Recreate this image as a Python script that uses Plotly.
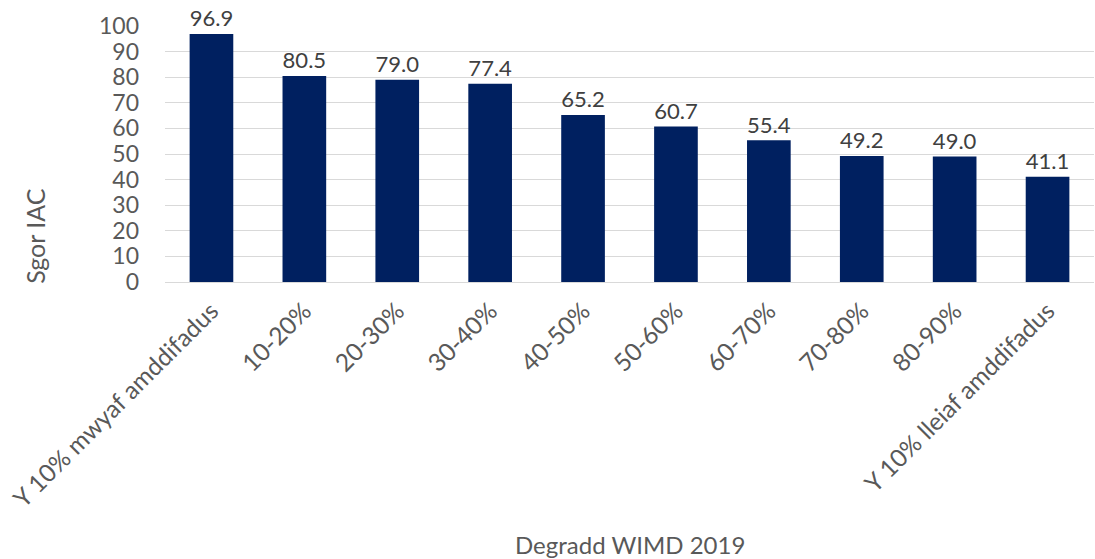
import plotly.graph_objects as go

categories = ["Y 10% mwyaf amddifadus", "10-20%", "20-30%", "30-40%", "40-50%",
              "50-60%", "60-70%", "70-80%", "80-90%", "Y 10% lleiaf amddifadus"]
values = [96.9, 80.5, 79.0, 77.4, 65.2, 60.7, 55.4, 49.2, 49.0, 41.1]
y_ticks = list(range(0, 101, 10))

FONT = "Lato, Carlito, Calibri, sans-serif"
fig = go.Figure(go.Bar(
    x=categories, y=values, marker=dict(color="#002060", line=dict(width=0)),
    width=0.47, text=[f"{v:.1f}" for v in values], textposition="outside",
    textfont=dict(size=24, color="#404040", family=FONT), cliponaxis=False,
))
fig.update_layout(
    width=1095, height=559, plot_bgcolor="white", paper_bgcolor="white",
    margin=dict(l=165, r=1, t=26, b=277), showlegend=False,
    font=dict(family=FONT, color="#595959", size=23),
    xaxis=dict(tickangle=-45, showgrid=False, linecolor="#d9d9d9", linewidth=1,
               tickfont=dict(size=24.5, color="#595959"), ticks="", automargin=False,
               ticklabelstandoff=4),
    yaxis=dict(range=[0, 100], tickvals=y_ticks, gridcolor="#d9d9d9", gridwidth=1,
               zeroline=False, showline=False, ticklabelstandoff=25, automargin=False,
               tickfont=dict(size=23, color="#595959")),
    annotations=[
        dict(text="Degradd WIMD 2019", xref="paper", yref="paper", x=0.5, y=-1.027,
             showarrow=False, font=dict(size=24, color="#595959"), yanchor="middle"),
        dict(text="Sgor IAC", xref="paper", yref="paper", x=-0.140, y=0.18,
             textangle=-90, showarrow=False, font=dict(size=25, color="#595959"),
             yanchor="middle", xanchor="center"),
    ],
)
fig.write_html("out.html", config={"displayModeBar": False},
               post_script="document.body.style.margin='0';")
